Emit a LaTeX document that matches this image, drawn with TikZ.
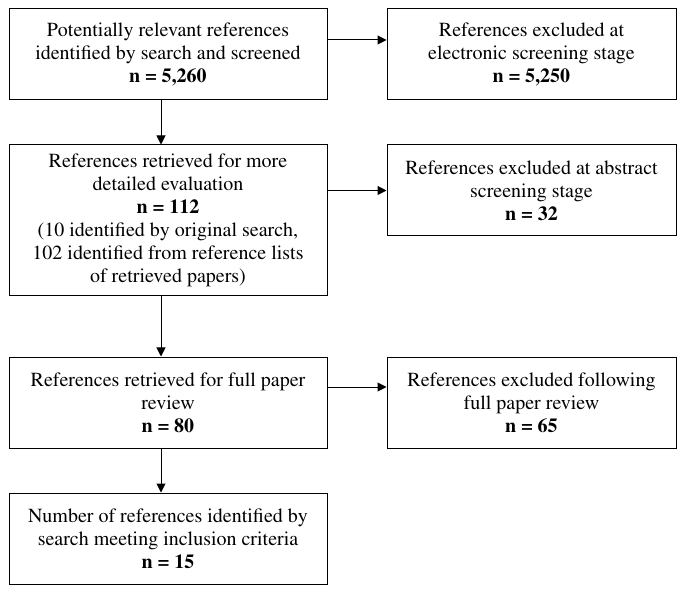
\documentclass[tikz,border=0pt]{standalone}
\usepackage[T1]{fontenc}
\usepackage{times}
\usetikzlibrary{positioning, arrows.meta}

\tikzset{
  box/.style={draw, line width=1pt, align=center, inner sep=0pt,
    font=\rmfamily\fontsize{20}{23}\selectfont},
  leftbox/.style={box, minimum width=318pt},
  rightbox/.style={box, minimum width=289pt},
  flow/.style={line width=1pt, -{Triangle[length=9pt, width=9pt]}}
}

\begin{document}
\begin{tikzpicture}[x=1pt, y=-1pt]
\useasboundingbox (0,0) rectangle (685,593) ;

\node[leftbox, minimum height=91pt] at (168,54.5) (screened) {Potentially relevant references\\identified by search and screened\\\textbf{n = 5,260}} ;
\node[rightbox, minimum height=91pt] at (531.5,54.5) (excl1) {References excluded at\\electronic screening stage\\\textbf{n = 5,250}} ;

\node[leftbox, minimum height=151pt] at (168,220.5) (detailed) {References retrieved for more\\detailed evaluation\\\textbf{n = 112}\\(10 identified by original search,\\102 identified from reference lists\\of retrieved papers)} ;
\node[rightbox, minimum height=91pt] at (531.5,190.5) (excl2) {References excluded at abstract\\screening stage\\\textbf{n = 32}} ;

\node[leftbox, minimum height=91pt] at (168,402.5) (fullpaper) {References retrieved for full paper\\review\\\textbf{n = 80}} ;
\node[rightbox, minimum height=91pt] at (531.5,402.5) (excl3) {References excluded following\\full paper review\\\textbf{n = 65}} ;

\node[leftbox, minimum height=91pt] at (168,538.5) (included) {Number of references identified by\\search meeting inclusion criteria\\\textbf{n = 15}} ;

\draw[flow] ([yshift=14.5pt]screened.east) -- ([yshift=14.5pt]excl1.west) ;
\draw[flow] ([xshift=-7pt]screened.south) -- ([xshift=-7pt]detailed.north) ;
\draw[flow] (detailed.east |- excl2.west) -- (excl2.west) ;
\draw[flow] ([xshift=-7pt]detailed.south) -- ([xshift=-7pt]fullpaper.north) ;
\draw[flow] ([yshift=15.5pt]fullpaper.east) -- ([yshift=15.5pt]excl3.west) ;
\draw[flow] ([xshift=-7pt]fullpaper.south) -- ([xshift=-7pt]included.north) ;
\end{tikzpicture}
\end{document}
